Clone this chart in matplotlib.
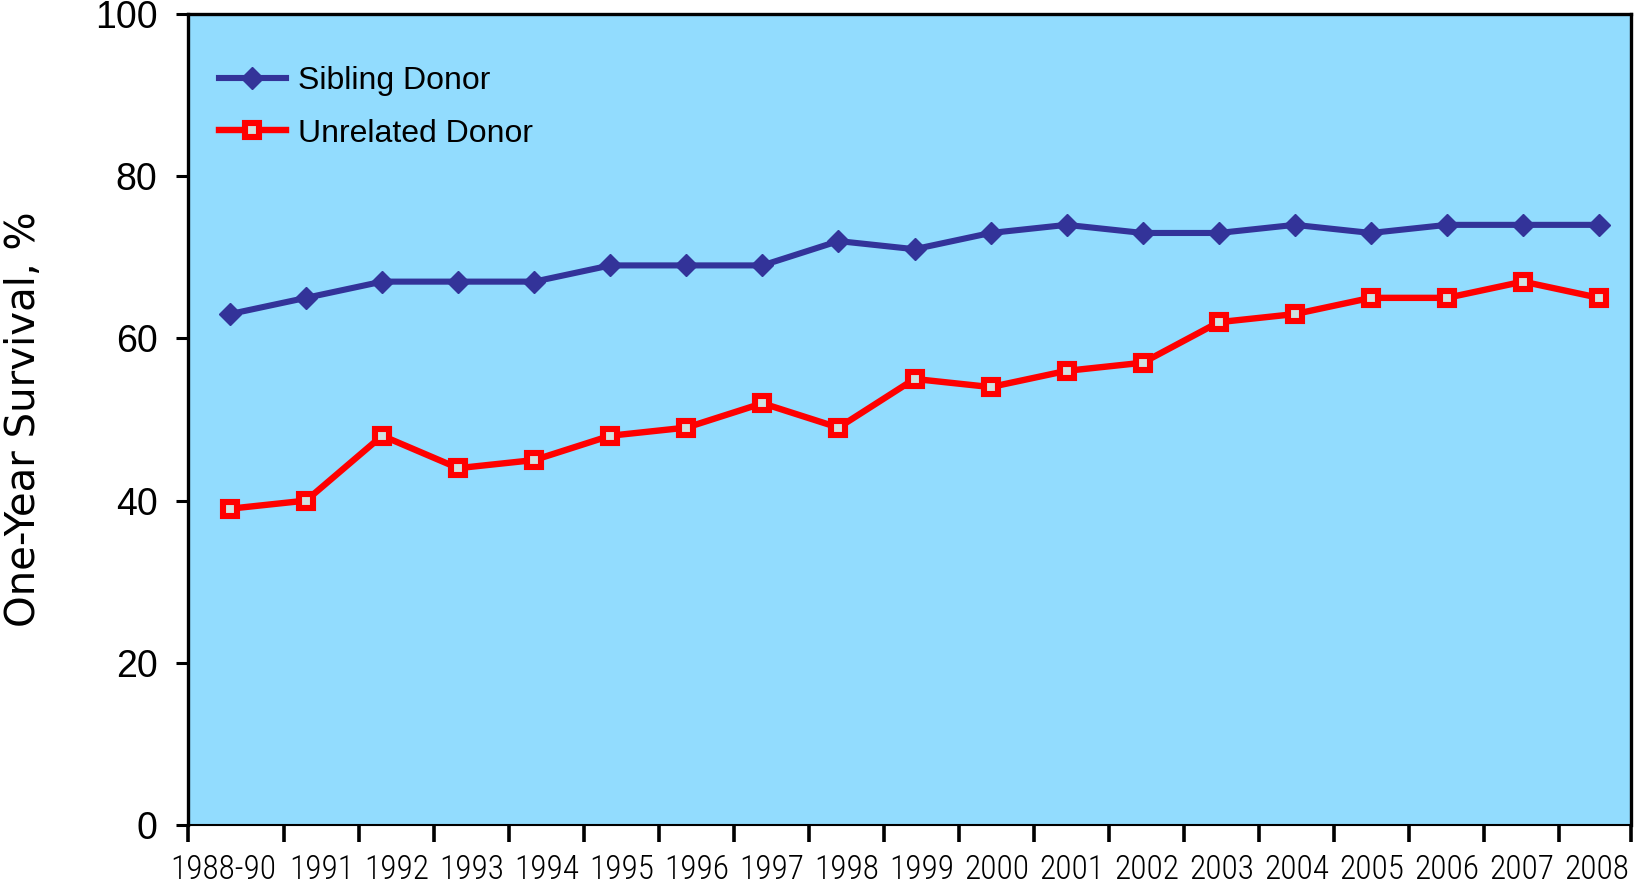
import matplotlib
matplotlib.use("Agg")
import matplotlib.pyplot as plt

# chart data
years = ["1988-90", "1991", "1992", "1993", "1994", "1995", "1996", "1997",
         "1998", "1999", "2000", "2001", "2002", "2003", "2004", "2005",
         "2006", "2007", "2008"]
sibling = [63, 65, 67, 67, 67, 69, 69, 69, 72, 71, 73, 74, 73, 73, 74, 73, 74, 74, 74]
unrelated = [39, 40, 48, 44, 45, 48, 49, 52, 49, 55, 54, 56, 57, 62, 63, 65, 65, 67, 65]
y_ticks = [0, 20, 40, 60, 80, 100]

plt.rcParams['font.family'] = ['Liberation Sans', 'DejaVu Sans']
narrow = ['Liberation Sans Narrow', 'Roboto Condensed', 'Archivo Narrow', 'Liberation Sans']

W, H = 1637, 886
fig = plt.figure(figsize=(W / 100, H / 100), dpi=100)
ax = fig.add_axes([188 / W, 1 - 825 / H, (1631 - 188) / W, (825 - 14) / H])
ax.set_facecolor('#92DCFE')

x = list(range(len(years)))
ax.plot(x, sibling, color='#333399', lw=4.4, marker='D', markersize=11,
        markerfacecolor='#333399', markeredgecolor='#333399', label='Sibling Donor')
ax.plot(x, unrelated, color='#FF0000', lw=4.6, marker='s', markersize=10.5,
        markerfacecolor='#CFE2E2', markeredgecolor='#FF0000', markeredgewidth=4.4,
        label='Unrelated Donor')

# x layout: points every 76 px from 230 px, category boundaries every 75 px from 209 px
px0, dpx = 230.0, 76.06
bnd0, bstep = 209.0, 75.0
def to_data(p):
    return (p - px0) / dpx

x_lo, x_hi = to_data(188), to_data(1631)
ax.set_xlim(x_lo, x_hi)
ax.set_ylim(0, 100)

bounds = [x_lo] + [min(to_data(bnd0 + bstep * k), x_hi) for k in range(1, 20)]
label_pos = [to_data(bnd0 + bstep * (k + 0.5)) for k in range(len(years))]
label_pos[0] = to_data(223)

ax.set_xticks(label_pos)
ax.set_xticklabels(years, fontsize=24, family=narrow, fontweight='light')
ax.tick_params(axis='x', which='major', length=0, pad=21)
ax.set_xticks(bounds, minor=True)
ax.tick_params(axis='x', which='minor', length=12, width=2.6, direction='out')

ax.set_yticks(y_ticks)
ax.tick_params(axis='y', labelsize=27, length=9, width=2.2, direction='out', pad=13)

for s in ['left', 'top', 'right']:
    ax.spines[s].set_linewidth(2.4)
ax.spines['bottom'].set_linewidth(1.5)

ax.set_ylabel('One-Year Survival, %', fontsize=29, family=['DejaVu Sans'])
ax.yaxis.set_label_coords(-0.100, 0.5)

ax.legend(loc='upper left', bbox_to_anchor=(0.0015, 0.971), frameon=False,
          fontsize=23, handlelength=2.1, handletextpad=0.37, labelspacing=0.7)

plt.savefig('out.png', dpi=100)
